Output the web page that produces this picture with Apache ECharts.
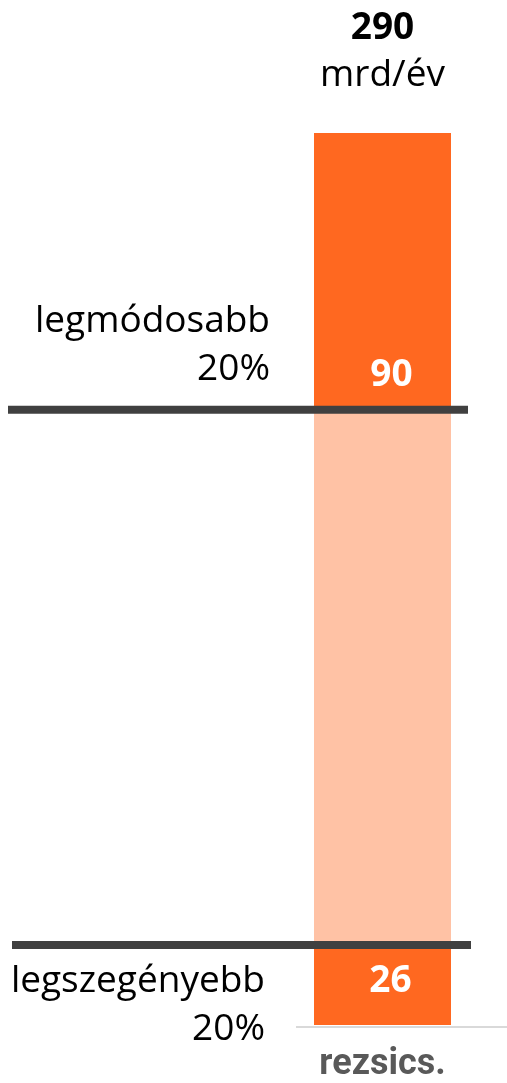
<!DOCTYPE html>
<html>
<head>
<meta charset="utf-8">
<script src="https://cdn.jsdelivr.net/npm/echarts@6/dist/echarts.min.js"></script>
<style>
  html, body { margin: 0; padding: 0; background: #fff; }
  #chart { width: 507px; height: 1083px; }
</style>
</head>
<body>
<div id="chart"></div>
<script>
// one stacked column: bottom 20%, middle, top 20%
const categories = ['rezsics.']
const bottomValues = [26]
const middleValues = [174]
const topValues = [90]
const totalLabel = '290'
const unitLabel = 'mrd/év'
const groupLabels = ['legmódosabb\n20%', 'legszegényebb\n20%']

const dark = '#FF6820'
const light = '#FFC2A5'

// boundaries where the dark separator lines go
const boundaries = [
  [0, bottomValues[0] + middleValues[0], groupLabels[0], 'top'],
  [0, bottomValues[0], groupLabels[1], 'bottom']
]

const myChart = echarts.init(document.getElementById('chart'))
const option = {
  animation: false,
  textStyle: { fontFamily: 'Open Sans' },
  grid: { left: 258, right: 0, top: 133, bottom: 56 },
  // baseline only under the bar area, like the original
  graphic: [{
    type: 'line',
    shape: { x1: 296, y1: 1027, x2: 507, y2: 1027 },
    style: { stroke: '#D9D9D9', lineWidth: 2 },
    z: 1
  }],
  xAxis: {
    type: 'category',
    data: categories,
    axisTick: { show: false },
    axisLine: { show: false },
    axisLabel: { color: '#595959', fontSize: 36, fontWeight: 'bold', fontFamily: 'Roboto', margin: 22 }
  },
  yAxis: {
    type: 'value', min: 0, max: 290,
    show: false, splitLine: { show: false }
  },
  series: [
    {
      name: 'bottom', type: 'bar', stack: 'a', barWidth: 137,
      data: bottomValues, itemStyle: { color: dark },
      label: {
        show: true, position: 'inside', offset: [8, -4],
        color: '#fff', fontSize: 37, fontWeight: 'bold', fontFamily: 'Open Sans'
      }
    },
    {
      name: 'middle', type: 'bar', stack: 'a', barWidth: 137,
      data: middleValues, itemStyle: { color: light }
    },
    {
      name: 'top', type: 'bar', stack: 'a', barWidth: 137,
      data: topValues, itemStyle: { color: dark },
      label: {
        show: true, position: 'insideBottom', distance: 16, offset: [9, 0],
        color: '#fff', fontSize: 37, fontWeight: 'bold', fontFamily: 'Open Sans'
      }
    },
    {
      // top label: total + unit
      name: 'total', type: 'bar', stack: 'a', barWidth: 137,
      data: [0],
      label: {
        show: true, position: 'top', distance: 34,
        formatter: '{t|' + totalLabel + '}\n{u|' + unitLabel + '}',
        rich: {
          t: { fontSize: 37, fontWeight: 'bold', color: '#000', lineHeight: 47, fontFamily: 'Open Sans' },
          u: { fontSize: 37, color: '#000', lineHeight: 47, fontFamily: 'Open Sans' }
        }
      }
    },
    {
      type: 'custom',
      data: boundaries,
      encode: { x: 0, y: 1 },
      z: 10,
      renderItem: function (params, api) {
        const y = api.coord([0, api.value(1)])[1]
        const item = boundaries[params.dataIndex]
        const isTop = item[3] === 'top'
        return {
          type: 'group',
          children: [
            {
              type: 'line',
              shape: { x1: isTop ? 8 : 12, y1: y, x2: isTop ? 468 : 471, y2: y },
              style: { stroke: '#404040', lineWidth: 8 }
            },
            {
              type: 'text',
              x: isTop ? 270 : 265,
              y: isTop ? y - 16 : y + 12,
              style: {
                text: item[2],
                align: 'right',
                verticalAlign: isTop ? 'bottom' : 'top',
                fontSize: 37,
                lineHeight: 48,
                fontFamily: 'Open Sans',
                fill: '#000'
              }
            }
          ]
        }
      }
    }
  ]
}
option && myChart.setOption(option)
</script>
</body>
</html>
